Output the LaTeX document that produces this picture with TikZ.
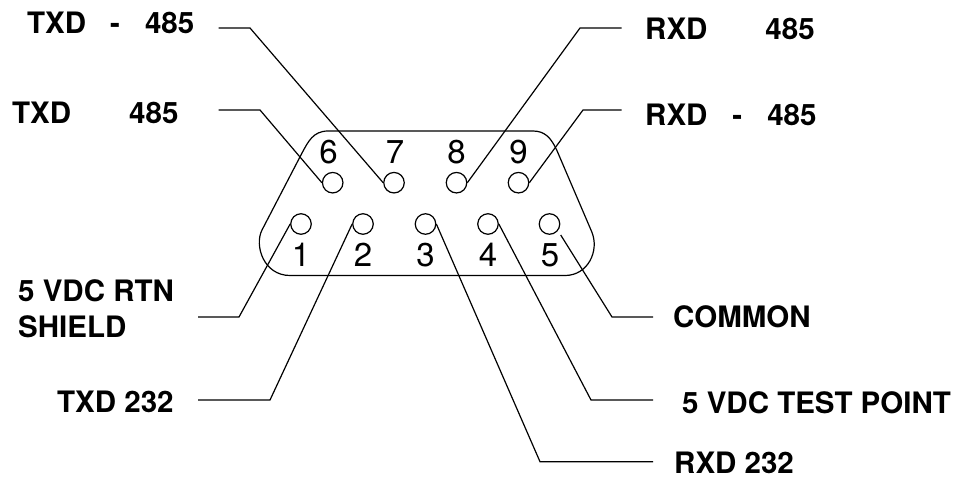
\documentclass[tikz,border=0pt]{standalone}
\usepackage{fontspec}
\setmainfont{TeX Gyre Heros}
\usetikzlibrary{calc}
\tikzset{
  pin/.style={circle,draw=black,line width=1.2pt,minimum size=20.5pt,inner sep=0pt},
  num/.style={inner sep=0pt,anchor=base,font=\fontsize{33}{33}\selectfont},
  lab/.style={inner sep=0pt,anchor=base west,align=left,font=\fontsize{29.5}{36}\selectfont\bfseries},
  wire/.style={line width=1.2pt,draw=black,line join=miter},
  shell/.style={line width=1.2pt,draw=black}
}
\begin{document}
\begin{tikzpicture}[x=1pt,y=-1pt]
\useasboundingbox (0,0) rectangle (955,479);
\draw[shell] (430.5,131) -- (328,131) .. controls (313,131) and (308,142) .. (302,153) -- (262,230)
  .. controls (254,246) and (264,275.5) .. (290,275.5) -- (565,275.5)
  .. controls (588,275.5) and (599.7,250.7) .. (591.7,231.7) -- (556.7,150)
  .. controls (551,138) and (545,131) .. (533,131) -- cycle;
\foreach \n/\x/\y in {p6/332.7/182.7,p7/394/182.7,p8/456.5/182.7,p9/518.5/182.7,
  p1/301/224,p2/363/224,p3/425.5/224,p4/488/224,p5/549.5/224}
  \node[pin] (\n) at (\x,\y) {};
\foreach \n/\t/\x/\y in {n6/6/328.5/163,n7/7/395/163,n8/8/456.5/163,n9/9/518.5/163,
  n1/1/301/266,n2/2/363/266,n3/3/425.5/266,n4/4/488/266,n5/5/550/266}
  \node[num] (\n) at (\x,\y) {\t};
\node[lab] (ltm) at (27,33) {TXD\hspace{24pt}-\hspace{25pt}485};
\node[lab] (ltp) at (12,123) {TXD\hspace{58pt}485};
\node[lab] (lrp) at (645,39) {RXD\hspace{58pt}485};
\node[lab] (lrm) at (645,125) {RXD\hspace{25pt}-\hspace{25pt}485};
\node[lab,anchor=west] (l1) at (18,309) {5 VDC RTN\\SHIELD};
\node[lab] (l2) at (57,412) {TXD 232};
\node[lab] (l3) at (674,473) {RXD 232};
\node[lab] (l4) at (682,413) {5 VDC TEST POINT};
\node[lab] (l5) at (673,327) {COMMON};
\coordinate (e7) at (218.5,28); \coordinate (b7) at (250,28);
\coordinate (e6) at (218.5,110); \coordinate (b6) at (260,110);
\coordinate (e8) at (621.7,28); \coordinate (b8) at (580,28);
\coordinate (e9) at (621.7,110); \coordinate (b9) at (583,110);
\coordinate (e1) at (198,317); \coordinate (b1) at (239,317);
\coordinate (e2) at (198,400); \coordinate (b2) at (270,400);
\coordinate (e3) at (653,461.7); \coordinate (b3) at (540,461.7);
\coordinate (e4) at (653,400); \coordinate (b4) at (591,400);
\coordinate (e5) at (653,317); \coordinate (b5) at (612,317);
\coordinate (t5) at (560.7,235);
\foreach \i/\a in {7/180,6/180,8/0,9/0,1/180,2/180,3/0,4/0}
  \draw[wire] (e\i) -- (b\i) -- (p\i.\a);
\draw[wire] (e5) -- (b5) -- (t5);
\end{tikzpicture}
\end{document}
